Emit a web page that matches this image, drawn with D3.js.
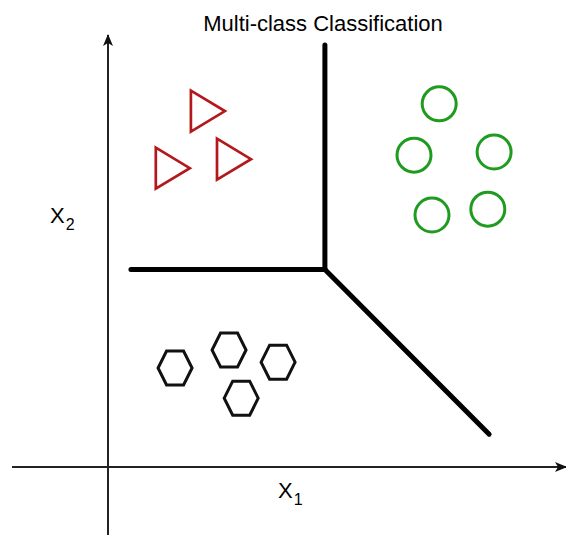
<!DOCTYPE html>
<html lang="en">
<head>
    <meta charset="UTF-8">
    <title>Multi-class Classification</title>
    <script src="https://d3js.org/d3.v7.min.js"></script>
    <style>
        body { margin: 0; background: #fff; }
        svg { display: block; font-family: "Liberation Sans", Arial, Helvetica, sans-serif; }
    </style>
</head>
<body>
    <svg id="chart"></svg>

    <script>
        // class points (x1, x2) in plot units
        const triangles = [[2.22, 7.91], [1.44, 6.64], [2.80, 6.84]];
        const circles = [[7.36, 8.07], [6.80, 6.93], [8.58, 7.00], [7.20, 5.60], [8.44, 5.73]];
        const hexagons = [[1.49, 2.20], [2.69, 2.60], [3.78, 2.33], [2.96, 1.53]];

        // decision boundaries, all meeting at one junction
        const junction = [4.82, 4.39];
        const boundaryEnds = [[4.82, 9.38], [0.51, 4.39], [8.47, 0.73]];

        const title = 'Multi-class Classification';
        const xLabel = ['X', '1'];
        const yLabel = ['X', '2'];

        const width = 566, height = 535;

        const svg = d3.select('#chart')
            .attr('width', width)
            .attr('height', height);

        const x = d3.scaleLinear().domain([0, 10]).range([108, 558]);
        const y = d3.scaleLinear().domain([0, 10]).range([467, 17]);

        // arrowheads
        const defs = svg.append('defs');
        defs.append('marker')
            .attr('id', 'arrow')
            .attr('viewBox', '0 0 12 10')
            .attr('refX', 11)
            .attr('refY', 5)
            .attr('markerWidth', 12)
            .attr('markerHeight', 10)
            .attr('markerUnits', 'userSpaceOnUse')
            .attr('orient', 'auto')
            .append('path')
            .attr('d', 'M0,0 L12,5 L0,10 L3,5 Z')
            .attr('fill', '#111');

        // axes
        svg.append('line')
            .attr('x1', x(0)).attr('y1', height)
            .attr('x2', x(0)).attr('y2', y(9.6))
            .attr('stroke', '#222').attr('stroke-width', 2)
            .attr('marker-end', 'url(#arrow)');

        svg.append('line')
            .attr('x1', 12).attr('y1', y(0))
            .attr('x2', width).attr('y2', y(0))
            .attr('stroke', '#222').attr('stroke-width', 2)
            .attr('marker-end', 'url(#arrow)');

        // boundaries
        svg.selectAll('.boundary')
            .data(boundaryEnds)
            .enter().append('line')
            .attr('class', 'boundary')
            .attr('x1', x(junction[0])).attr('y1', y(junction[1]))
            .attr('x2', d => x(d[0])).attr('y2', d => y(d[1]))
            .attr('stroke', '#000')
            .attr('stroke-width', 5)
            .attr('stroke-linecap', 'round');

        // triangles (pointing right)
        svg.selectAll('.tri')
            .data(triangles)
            .enter().append('path')
            .attr('class', 'tri')
            .attr('transform', d => `translate(${x(d[0])},${y(d[1])})`)
            .attr('d', 'M-17,-20.5 L17,0 L-17,20.5 Z')
            .attr('fill', 'none')
            .attr('stroke', '#b3191c')
            .attr('stroke-width', 2.7)
            .attr('stroke-linejoin', 'miter');

        // circles
        svg.selectAll('.circ')
            .data(circles)
            .enter().append('circle')
            .attr('class', 'circ')
            .attr('cx', d => x(d[0]))
            .attr('cy', d => y(d[1]))
            .attr('r', 17)
            .attr('fill', 'none')
            .attr('stroke', '#1f9c1f')
            .attr('stroke-width', 3);

        // hexagons (flat top, slightly tall as in the drawing)
        const hexW = 17, hexH = 17;
        const hexPts = [[hexW, 0], [hexW / 2, hexH], [-hexW / 2, hexH],
                        [-hexW, 0], [-hexW / 2, -hexH], [hexW / 2, -hexH]];
        svg.selectAll('.hex')
            .data(hexagons)
            .enter().append('path')
            .attr('class', 'hex')
            .attr('transform', d => `translate(${x(d[0])},${y(d[1])})`)
            .attr('d', 'M' + hexPts.join('L') + 'Z')
            .attr('fill', 'none')
            .attr('stroke', '#111')
            .attr('stroke-width', 3);

        // title
        svg.append('text')
            .attr('x', 323)
            .attr('y', 31)
            .attr('text-anchor', 'middle')
            .attr('font-size', '22px')
            .attr('fill', '#000')
            .text(title);

        // axis labels with subscripts
        const xl = svg.append('text')
            .attr('x', 278).attr('y', 498)
            .attr('font-size', '22px').attr('fill', '#000');
        xl.append('tspan').text(xLabel[0]);
        xl.append('tspan').attr('font-size', '16px').attr('dy', 7).attr('dx', 1).text(xLabel[1]);

        const yl = svg.append('text')
            .attr('x', 50).attr('y', 223)
            .attr('font-size', '22px').attr('fill', '#000');
        yl.append('tspan').text(yLabel[0]);
        yl.append('tspan').attr('font-size', '16px').attr('dy', 7).attr('dx', 1).text(yLabel[1]);
    </script>
</body>
</html>
